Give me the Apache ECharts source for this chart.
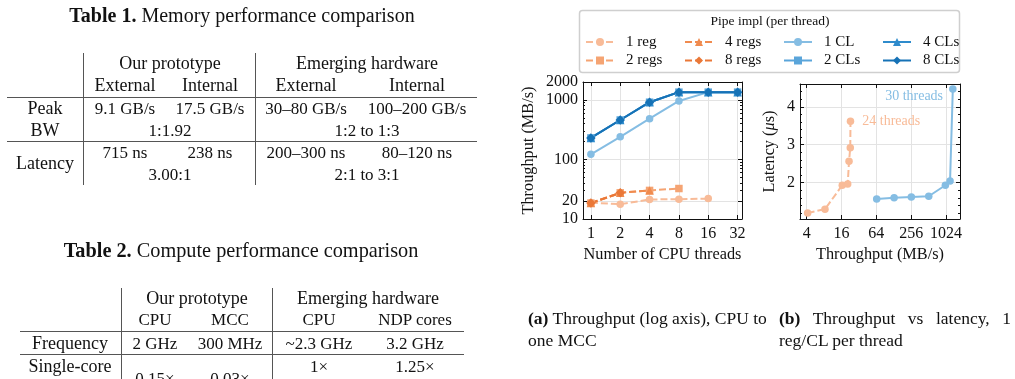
<!DOCTYPE html>
<html><head><meta charset="utf-8">
<script src="https://cdn.jsdelivr.net/npm/echarts@6/dist/echarts.min.js"></script>
<style>
html,body{margin:0;padding:0;width:1015px;height:379px;overflow:hidden;background:#fff;}
#chart{position:absolute;left:0;top:0;width:1015px;height:379px;}
#tables{position:absolute;left:0;top:0;width:500px;height:379px;}
.t{position:absolute;transform:translate(-50%,-50%);white-space:nowrap;font-family:'Liberation Serif',serif;font-size:17px;color:#111;line-height:1;}
.hl{position:absolute;height:0;border-top:1.4px solid #555;}
.vl{position:absolute;width:0;border-left:1.4px solid #555;}
.cap{position:absolute;font-family:'Liberation Serif',serif;font-size:17.5px;color:#111;line-height:22px;}
</style></head>
<body>
<div id="chart"></div>
<div id="tables"></div>
<div class="cap" style="left:528px;top:307px;width:245px;"><b>(a)</b> Throughput (log axis), CPU to one MCC</div>
<div class="cap" style="left:779px;top:307px;width:232px;text-align:justify;text-align-last:left;"><b>(b)</b> Throughput vs latency, 1 reg/CL per thread</div>
<script>
// ---------- Table data ----------
const t1Title = ['Table 1.', ' Memory performance comparison'];
const t1Groups = ['Our prototype', 'Emerging hardware'];
const t1Cols = ['External', 'Internal', 'External', 'Internal'];
const t1PeakBW = ['9.1 GB/s', '17.5 GB/s', '30\u201380 GB/s', '100\u2013200 GB/s'];
const t1PeakRatio = ['1:1.92', '1:2 to 1:3'];
const t1Latency = ['715 ns', '238 ns', '200\u2013300 ns', '80\u2013120 ns'];
const t1LatRatio = ['3.00:1', '2:1 to 3:1'];
const t1RowLabels = ['Peak', 'BW', 'Latency'];

const t2Title = ['Table 2.', ' Compute performance comparison'];
const t2Groups = ['Our prototype', 'Emerging hardware'];
const t2Cols = ['CPU', 'MCC', 'CPU', 'NDP cores'];
const t2Freq = ['2 GHz', '300 MHz', '~2.3 GHz', '3.2 GHz'];
const t2Single = ['0.15\u00d7', '0.03\u00d7', '1\u00d7', '1.25\u00d7'];
const t2RowLabels = ['Frequency', 'Single-core'];

// ---------- Chart data ----------
const threads = [1, 2, 4, 8, 16, 32];
const reg1 = [18.8, 17.7, 21.3, 21.5, 22.0];
const reg2 = [18.5, 27.5, 30.2, 32.5];
const reg4 = [18.5, 27.5, 30.2];
const reg8 = [18.5, 27.5];
const cl1 = [122, 240, 485, 960, 1350, 1350];
const cl2 = [230, 460, 915, 1350, 1350, 1350];
const cl4 = [230, 460, 915, 1350, 1350, 1350];
const cl8 = [230, 460, 915, 1350, 1350, 1350];

const latRegTput = [4.16, 8.3, 16.5, 20.5, 21.6, 22.7, 22.9];
const latRegLat = [1.2, 1.3, 1.93, 1.96, 2.56, 2.92, 3.62];
const latClTput = [65, 130, 258, 516, 1000, 1205, 1345];
const latClLat = [1.57, 1.6, 1.62, 1.64, 1.93, 2.04, 4.47];

const leftXTicks = [1, 2, 4, 8, 16, 32];
const leftYTicks = [10, 20, 100, 1000, 2000];
const leftYMinor = [30, 40, 50, 60, 70, 80, 90, 200, 300, 400, 500, 600, 700, 800, 900];
const rightXTicks = [4, 16, 64, 256, 1024];
const rightYTicks = [2, 3, 4];
const rightYMinor = [1.2, 1.4, 1.6, 1.8, 2.2, 2.4, 2.6, 2.8, 3.2, 3.4, 3.6, 3.8, 4.2, 4.4];

// ---------- Tables (HTML) ----------
const T = document.getElementById('tables');
function txt(s, x, y, extra) {
  const d = document.createElement('div');
  d.className = 't'; d.style.left = x + 'px'; d.style.top = y + 'px';
  if (extra) Object.assign(d.style, extra);
  d.innerHTML = s; T.appendChild(d);
}
function hl(x1, x2, y) { const d = document.createElement('div'); d.className = 'hl'; d.style.left = x1 + 'px'; d.style.width = (x2 - x1) + 'px'; d.style.top = y + 'px'; T.appendChild(d); }
function vl(x, y1, y2) { const d = document.createElement('div'); d.className = 'vl'; d.style.left = x + 'px'; d.style.top = y1 + 'px'; d.style.height = (y2 - y1) + 'px'; T.appendChild(d); }

// Table 1
txt('<b>' + t1Title[0] + '</b>' + t1Title[1], 242, 15, {fontSize: '20px'});
const c1 = [125, 210, 306, 417], g1 = [170, 367];
vl(83, 53, 185); vl(255, 53, 185);
hl(7, 477, 97); hl(7, 477, 141);
t1Groups.forEach((s, i) => txt(s, g1[i], 63, {fontSize: '18px'}));
t1Cols.forEach((s, i) => txt(s, c1[i], 85, {fontSize: '18px'}));
txt(t1RowLabels[0], 45, 108, {fontSize: '18px'}); txt(t1RowLabels[1], 45, 130, {fontSize: '18px'}); txt(t1RowLabels[2], 45, 163, {fontSize: '18px'});
t1PeakBW.forEach((s, i) => txt(s, c1[i], 108));
t1PeakRatio.forEach((s, i) => txt(s, g1[i], 130));
t1Latency.forEach((s, i) => txt(s, c1[i], 152));
t1LatRatio.forEach((s, i) => txt(s, g1[i], 174));

// Table 2
txt('<b>' + t2Title[0] + '</b>' + t2Title[1], 241, 250, {fontSize: '20.3px'});
const c2 = [155, 230, 319, 415], g2 = [197, 368];
vl(121, 288, 379); vl(272, 288, 379);
hl(20, 464, 331); hl(20, 464, 354);
t2Groups.forEach((s, i) => txt(s, g2[i], 298, {fontSize: '18px'}));
t2Cols.forEach((s, i) => txt(s, c2[i], 319));
txt(t2RowLabels[0], 70, 343, {fontSize: '18px'}); txt(t2RowLabels[1], 70, 366, {fontSize: '18px'});
t2Freq.forEach((s, i) => txt(s, c2[i], 343));
txt(t2Single[0], c2[0], 378); txt(t2Single[1], c2[1], 378);
txt(t2Single[2], c2[2], 366); txt(t2Single[3], c2[3], 366);

// ---------- Chart ----------
const FONT = 'Liberation Serif';
const GRIDC = '#e3e3e3';
const colors = {
  reg1: '#f8bb98', reg2: '#f5a473', reg4: '#f08b4f', reg8: '#ea7838',
  cl1: '#85bde3', cl2: '#5aa5da', cl4: '#2e8bcc', cl8: '#1672b6'
};
const plainNum = v => String(Math.round(v * 1000) / 1000);

function axisBase(extra) {
  return Object.assign({
    axisLine: {show: true, onZero: false, lineStyle: {color: '#111', width: 1}},
    axisTick: {show: true, inside: true, length: 4, lineStyle: {color: '#111', width: 1}},
    axisLabel: {show: false},
    splitLine: {show: false}
  }, extra);
}
const labelStyle = {show: true, color: '#111', fontFamily: FONT, fontSize: 16, formatter: plainNum};
const nameStyle = {color: '#111', fontFamily: FONT, fontSize: 16.3};

const xAxes = [
  axisBase({type: 'log', logBase: 2, min: 0.83, max: 35.5, gridIndex: 0, position: 'bottom',
    axisTick: {show: true, inside: true, length: 4, customValues: leftXTicks, lineStyle: {color: '#111'}},
    axisLabel: Object.assign({}, labelStyle, {customValues: leftXTicks, margin: 7}),
    splitLine: {show: true, lineStyle: {color: GRIDC}},
    name: 'Number of CPU threads', nameLocation: 'middle', nameGap: 28, nameTextStyle: nameStyle}),
  axisBase({type: 'log', logBase: 2, min: 0.83, max: 35.5, gridIndex: 0, position: 'top',
    axisTick: {show: true, inside: true, length: 4, customValues: leftXTicks, lineStyle: {color: '#111'}}}),
  axisBase({type: 'log', logBase: 2, min: 3.07, max: 1790, gridIndex: 1, position: 'bottom',
    axisTick: {show: true, inside: true, length: 4, customValues: rightXTicks, lineStyle: {color: '#111'}},
    axisLabel: Object.assign({}, labelStyle, {customValues: rightXTicks, margin: 7}),
    splitLine: {show: true, lineStyle: {color: GRIDC}},
    name: 'Throughput (MB/s)', nameLocation: 'middle', nameGap: 28, nameTextStyle: nameStyle}),
  axisBase({type: 'log', logBase: 2, min: 3.07, max: 1790, gridIndex: 1, position: 'top',
    axisTick: {show: true, inside: true, length: 4, customValues: rightXTicks, lineStyle: {color: '#111'}}})
];

function yPair(grid, type, min, max, major, minor, pos, main) {
  const a = axisBase({type: type, min: min, max: max, gridIndex: grid, position: pos,
    axisTick: {show: true, inside: true, length: 4, customValues: major, lineStyle: {color: '#111'}}});
  if (main) {
    a.axisLabel = Object.assign({}, labelStyle, {customValues: major, margin: 5});
    a.splitLine = {show: true, lineStyle: {color: GRIDC}};
    Object.assign(a, main);
  }
  const b = axisBase({type: type, min: min, max: max, gridIndex: grid, position: pos,
    axisLine: {show: false},
    axisTick: {show: true, inside: true, length: 2, customValues: minor, lineStyle: {color: '#111'}}});
  return [a, b];
}
const yAxes = [].concat(
  yPair(0, 'log', 10, 2000, leftYTicks, leftYMinor, 'left',
    {name: 'Throughput (MB/s)', nameLocation: 'middle', nameGap: 46, nameTextStyle: nameStyle}),
  yPair(0, 'log', 10, 2000, leftYTicks, leftYMinor, 'right', null),
  yPair(1, 'value', 1.04, 4.6, rightYTicks, rightYMinor, 'left',
    {name: 'Latency ({i|\u03bc}s)', nameLocation: 'middle', nameGap: 22,
     nameTextStyle: Object.assign({}, nameStyle, {rich: {i: {fontStyle: 'italic', fontFamily: FONT, fontSize: 16.3, color: '#111'}}})}),
  yPair(1, 'value', 1.04, 4.6, rightYTicks, rightYMinor, 'right', null)
);

function pts(xs, ys) { return ys.map((v, i) => [xs[i], v]); }
const dash = [7, 3];
function lineSeries(name, data, color, symbol, dashed, xi, yi, extra) {
  return Object.assign({
    type: 'line', name: name, data: data, xAxisIndex: xi, yAxisIndex: yi,
    symbol: symbol, symbolSize: symbol === 'diamond' ? 9.5 : (symbol === 'triangle' ? 8.5 : 7.5),
    showSymbol: true, color: color,
    lineStyle: {width: 2, color: color, type: dashed ? dash : 'solid'},
    itemStyle: {color: color}, emphasis: {disabled: true}, animation: false
  }, extra || {});
}

const series = [
  lineSeries('1 reg', pts(threads, reg1), colors.reg1, 'circle', true, 0, 0),
  lineSeries('2 regs', pts(threads, reg2), colors.reg2, 'rect', true, 0, 0),
  lineSeries('4 regs', pts(threads, reg4), colors.reg4, 'triangle', true, 0, 0),
  lineSeries('8 regs', pts(threads, reg8), colors.reg8, 'diamond', true, 0, 0),
  lineSeries('1 CL', pts(threads, cl1), colors.cl1, 'circle', false, 0, 0),
  lineSeries('2 CLs', pts(threads, cl2), colors.cl2, 'rect', false, 0, 0),
  lineSeries('4 CLs', pts(threads, cl4), colors.cl4, 'triangle', false, 0, 0),
  lineSeries('8 CLs', pts(threads, cl8), colors.cl8, 'diamond', false, 0, 0),
  lineSeries('1 reg (lat)', pts(latRegTput, latRegLat).map((p, i, arr) => i === arr.length - 1 ?
      {value: p, label: {show: true, position: 'right', distance: 8, formatter: '24 threads', color: colors.reg1, fontFamily: FONT, fontSize: 14}} : p),
    colors.reg1, 'circle', true, 2, 4),
  lineSeries('1 CL (lat)', pts(latClTput, latClLat).map((p, i, arr) => i === arr.length - 1 ?
      {value: p, label: {show: true, position: 'left', distance: 6, offset: [0, 7], formatter: '30 threads', color: colors.cl1, fontFamily: FONT, fontSize: 14}} : p),
    colors.cl1, 'circle', false, 2, 4)
];

function legendCol(names, left) {
  return {data: names, left: left, top: 34, orient: 'vertical', itemGap: 2.5, itemWidth: 28, itemHeight: 10,
    padding: 0, selectedMode: false,
    textStyle: {color: '#111', fontFamily: FONT, fontSize: 15, lineHeight: 16, padding: [0, 0, 0, 7]}};
}

const chart = echarts.init(document.getElementById('chart'), null, {renderer: 'canvas'});
chart.setOption({
  animation: false,
  grid: [
    {left: 583, top: 82, width: 159, height: 137, show: false},
    {left: 800, top: 84, width: 160, height: 135, show: false}
  ],
  xAxis: xAxes,
  yAxis: yAxes,
  legend: [
    legendCol(['1 reg', '2 regs'], 585),
    legendCol(['4 regs', '8 regs'], 684),
    legendCol(['1 CL', '2 CLs'], 783),
    legendCol(['4 CLs', '8 CLs'], 882)
  ],
  graphic: [
    {type: 'rect', shape: {x: 579.5, y: 10.5, width: 380, height: 62, r: 3}, style: {fill: '#fff', stroke: '#cfcfcf', lineWidth: 1.5}, z: -1},
    {type: 'text', x: 770, y: 21, style: {text: 'Pipe impl (per thread)', fill: '#111', font: '13.5px "Liberation Serif"', align: 'center', verticalAlign: 'middle'}}
  ],
  series: series
});
</script>
</body></html>
